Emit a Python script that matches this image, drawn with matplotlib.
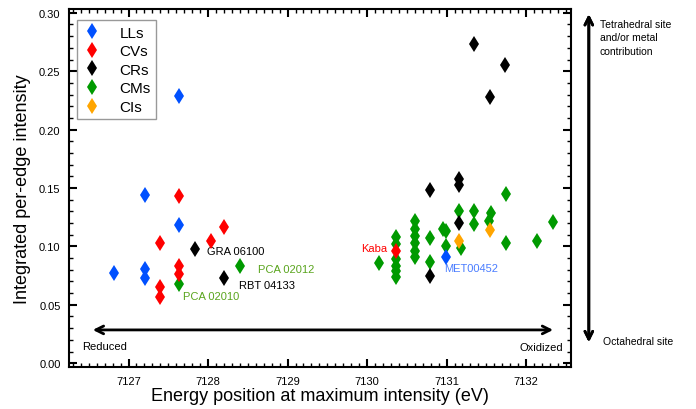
import matplotlib
matplotlib.use('Agg')
import matplotlib.pyplot as plt
from matplotlib.ticker import MultipleLocator, FormatStrFormatter

plt.rcParams['font.family'] = ['Liberation Sans', 'DejaVu Sans']

# Energy position (eV) and integrated intensity per group
ll_x = [7126.82, 7127.21, 7127.21, 7127.21, 7127.64, 7127.64, 7130.99]
ll_y = [0.077, 0.144, 0.081, 0.073, 0.229, 0.118, 0.091]

cv_x = [7127.64, 7128.20, 7127.40, 7128.04, 7127.64, 7127.64, 7127.40, 7127.40, 7130.37]
cv_y = [0.143, 0.117, 0.103, 0.105, 0.083, 0.076, 0.065, 0.057, 0.096]

cr_x = [7127.84, 7128.20, 7131.35, 7131.74, 7131.54, 7131.16, 7131.16, 7130.79, 7131.16, 7130.79]
cr_y = [0.098, 0.073, 0.273, 0.255, 0.228, 0.158, 0.153, 0.148, 0.120, 0.075]

cm_x = [7127.64, 7128.40, 7130.15,
        7130.37, 7130.37, 7130.37, 7130.37, 7130.37, 7130.37,
        7130.60, 7130.60, 7130.60, 7130.60, 7130.60, 7130.60,
        7130.79, 7130.79, 7130.96, 7130.99, 7130.99,
        7131.15, 7131.18, 7131.34, 7131.34, 7131.56, 7131.53,
        7131.75, 7131.75, 7132.14, 7132.34]
cm_y = [0.068, 0.083, 0.086,
        0.108, 0.102, 0.089, 0.083, 0.079, 0.074,
        0.122, 0.115, 0.109, 0.103, 0.096, 0.091,
        0.107, 0.087, 0.115, 0.113, 0.100,
        0.130, 0.099, 0.130, 0.119, 0.129, 0.122,
        0.145, 0.103, 0.105, 0.121]

ci_x = [7131.15, 7131.54]
ci_y = [0.105, 0.114]

# nombre, x, y, color, orden de dibujo
grupos = [('LLs', ll_x, ll_y, '#0050ff', 5),
          ('CVs', cv_x, cv_y, '#ff0000', 5),
          ('CRs', cr_x, cr_y, '#000000', 3),
          ('CMs', cm_x, cm_y, '#009a00', 2),
          ('CIs', ci_x, ci_y, '#ffa500', 4)]

# etiquetas de meteoritos: texto, x, y, color, alineacion
etiquetas = [('GRA 06100', 7127.99, 0.096, 'black', 'left'),
             ('PCA 02012', 7128.63, 0.0806, '#5aa51e', 'left'),
             ('RBT 04133', 7128.39, 0.0669, 'black', 'left'),
             ('PCA 02010', 7127.69, 0.0577, '#5aa51e', 'left'),
             ('Kaba', 7130.26, 0.099, '#ff0000', 'right'),
             ('MET00452', 7130.97, 0.0812, '#4a7dff', 'left')]

fig = plt.figure(figsize=(6.96, 4.10), dpi=100)
ax = fig.add_axes([0.099, 0.102, 0.722, 0.874])

for nombre, xs, ys, color, z in grupos:
    ax.plot(xs, ys, linestyle='none', marker='d', markersize=8.5,
            color=color, markeredgewidth=0, label=nombre, zorder=z)

for texto, x, y, color, ha in etiquetas:
    ax.text(x, y, texto, color=color, fontsize=8, ha=ha, va='center')

# flecha horizontal reducido / oxidado
ax.annotate('', xy=(7126.55, 0.0285), xytext=(7132.34, 0.0285),
            arrowprops=dict(arrowstyle='<->', lw=2, color='black',
                            mutation_scale=14, shrinkA=0, shrinkB=0))
ax.text(7126.41, 0.0146, 'Reduced', fontsize=8, ha='left', va='center')
ax.text(7132.46, 0.0137, 'Oxidized', fontsize=8, ha='right', va='center')

ax.set_xlim(7126.25, 7132.57)
ax.set_ylim(-0.0034, 0.3034)
ax.xaxis.set_major_locator(MultipleLocator(1))
ax.xaxis.set_minor_locator(MultipleLocator(0.1))
ax.yaxis.set_major_locator(MultipleLocator(0.05))
ax.yaxis.set_minor_locator(MultipleLocator(0.01))
ax.yaxis.set_major_formatter(FormatStrFormatter('%.2f'))
ax.tick_params(which='both', direction='in', top=True, right=True, labelsize=8)
ax.tick_params(which='major', length=6, width=1.5, pad=6)
ax.tick_params(which='minor', length=3, width=1)
for s in ax.spines.values():
    s.set_linewidth(1.5)

ax.set_xlabel('Energy position at maximum intensity (eV)', fontsize=13, labelpad=1)
ax.set_ylabel('Integrated per-edge intensity', fontsize=13, labelpad=6)

leg = ax.legend(loc='upper left', bbox_to_anchor=(0.016, 0.968), fontsize=11,
                fancybox=False, edgecolor='#808080', handletextpad=1.15,
                borderpad=0.35, labelspacing=0.3, handlelength=1.3,
                borderaxespad=0)
leg.get_frame().set_linewidth(1)

# flecha vertical fuera del grafico
fig.add_artist(plt.annotate('', xy=(0.846, 0.963), xytext=(0.846, 0.163),
                            xycoords='figure fraction', textcoords='figure fraction',
                            arrowprops=dict(arrowstyle='<->', lw=2, color='black',
                                            mutation_scale=14, shrinkA=0, shrinkB=0)))
fig.text(0.862, 0.952, 'Tetrahedral site\nand/or metal\ncontribution',
         fontsize=7.5, ha='left', va='top', linespacing=1.45)
fig.text(0.866, 0.166, 'Octahedral site', fontsize=7.5, ha='left', va='center')

plt.savefig('out.png', dpi=100)
